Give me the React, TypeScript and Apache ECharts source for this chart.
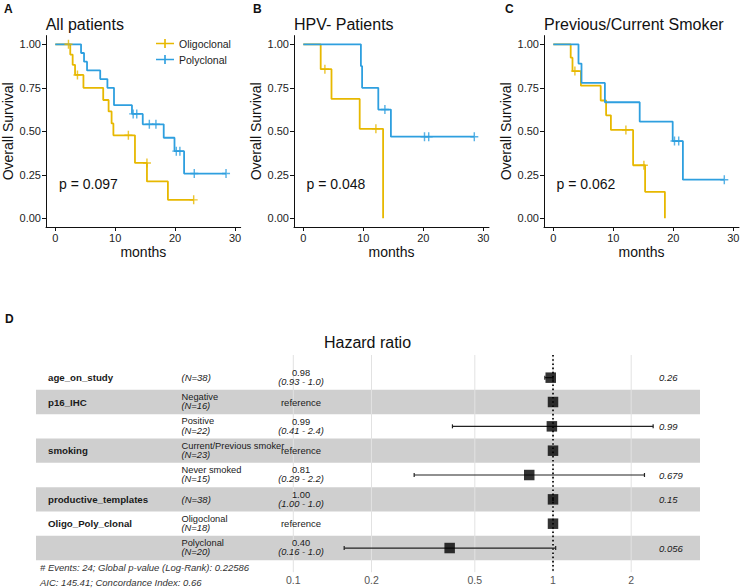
import React, { useEffect, useRef } from "react";
import * as echarts from "echarts";

const FONT = "'Liberation Sans', Arial, Helvetica, sans-serif";

// ---------- Kaplan-Meier data ----------
const monthTicks = [0, 10, 20, 30];
const survTicks = [0, 0.25, 0.5, 0.75, 1];
const groupNames = ["Oligoclonal", "Polyclonal"];
const groupColors = ["#E7B800", "#2E9FDF"];
const panelTitles = ["All patients", "HPV- Patients", "Previous/Current Smoker"];
const panelLetters = ["A", "B", "C"];
const panelPValues = ["p = 0.097", "p = 0.048", "p = 0.062"];

// Panel A: all patients
const aOligoTimes = [0, 2.5, 2.9, 3.3, 4.7, 8.0, 8.9, 9.4, 9.7, 13.3, 15.3, 18.8, 23.1];
const aOligoSurv = [1, 0.941, 0.882, 0.824, 0.75, 0.68, 0.614, 0.545, 0.477, 0.318, 0.212, 0.106, 0.106];
const aOligoCensorTimes = [2.2, 3.7, 12.2, 15.3, 23.1];
const aOligoCensorSurv = [1, 0.824, 0.477, 0.318, 0.106];
const aPolyTimes = [0, 4.3, 4.8, 5.3, 7.5, 8.7, 9.8, 12.8, 14.6, 18.1, 19.9, 21.5, 28.5];
const aPolySurv = [1, 0.95, 0.9, 0.85, 0.8, 0.75, 0.65, 0.6, 0.54, 0.463, 0.386, 0.257, 0.257];
const aPolyCensorTimes = [13.0, 13.6, 15.7, 16.8, 20.2, 20.8, 23.2, 28.5];
const aPolyCensorSurv = [0.6, 0.6, 0.54, 0.54, 0.386, 0.386, 0.257, 0.257];

// Panel B: HPV- patients
const bOligoTimes = [0, 2.9, 4.7, 9.4, 13.3];
const bOligoSurv = [1, 0.857, 0.686, 0.514, 0];
const bOligoCensorTimes = [3.6, 12.1];
const bOligoCensorSurv = [0.857, 0.514];
const bPolyTimes = [0, 9.6, 9.8, 12.5, 14.6, 28.5];
const bPolySurv = [1, 0.875, 0.75, 0.625, 0.469, 0.469];
const bPolyCensorTimes = [13.6, 20.2, 20.9, 28.5];
const bPolyCensorSurv = [0.625, 0.469, 0.469, 0.469];

// Panel C: previous/current smokers
const cOligoTimes = [0, 2.9, 3.2, 4.6, 7.9, 8.8, 9.6, 13.3, 15.3, 18.6];
const cOligoSurv = [1, 0.923, 0.846, 0.762, 0.677, 0.592, 0.508, 0.305, 0.152, 0];
const cOligoCensorTimes = [3.6, 12.1, 15.1];
const cOligoCensorSurv = [0.846, 0.508, 0.305];
const cPolyTimes = [0, 4.2, 4.7, 8.6, 14.4, 19.9, 21.6, 28.5];
const cPolySurv = [1, 0.889, 0.778, 0.667, 0.556, 0.444, 0.222, 0.222];
const cPolyCensorTimes = [20.2, 20.9, 28.5];
const cPolyCensorSurv = [0.444, 0.444, 0.222];

// ---------- Forest plot data ----------
const forestVars = ["age_on_study", "p16_IHC", "", "smoking", "", "productive_templates", "Oligo_Poly_clonal", ""];
const forestLevels = ["", "Negative", "Positive", "Current/Previous smoker", "Never smoked", "", "Oligoclonal", "Polyclonal"];
const forestN = [38, 16, 22, 23, 15, 38, 18, 20];
const forestHR = [0.98, 1, 0.99, 1, 0.81, 1.0, 1, 0.4];
const forestLow = [0.93, null, 0.41, null, 0.292, 1.0, null, 0.157];
const forestHigh = [1.0, null, 2.43, null, 2.25, 1.0, null, 1.024];
const forestHRText = ["0.98", "reference", "0.99", "reference", "0.81", "1.00", "reference", "0.40"];
const forestCIText = ["(0.93 - 1.0)", "", "(0.41 - 2.4)", "", "(0.29 - 2.2)", "(1.00 - 1.0)", "", "(0.16 - 1.0)"];
const forestP = ["0.26", "", "0.99", "", "0.679", "0.15", "", "0.056"];
const hrTicks = [0.1, 0.2, 0.5, 1, 2];
const forestFooter = [
  "# Events: 24; Global p-value (Log-Rank): 0.22586",
  "AIC: 145.41; Concordance Index: 0.66",
];

const PLUS = "path://M4.1,0H5.9V10H4.1Z M0,4.2H10V5.8H0Z";
const LEGEND_ICON = "path://M0,4.1H20V5.9H0Z M9.1,0H10.9V10H9.1Z";

const kmPanels = [
  {
    oligo: [aOligoTimes, aOligoSurv, aOligoCensorTimes, aOligoCensorSurv],
    poly: [aPolyTimes, aPolySurv, aPolyCensorTimes, aPolyCensorSurv],
  },
  {
    oligo: [bOligoTimes, bOligoSurv, bOligoCensorTimes, bOligoCensorSurv],
    poly: [bPolyTimes, bPolySurv, bPolyCensorTimes, bPolyCensorSurv],
  },
  {
    oligo: [cOligoTimes, cOligoSurv, cOligoCensorTimes, cOligoCensorSurv],
    poly: [cPolyTimes, cPolySurv, cPolyCensorTimes, cPolyCensorSurv],
  },
];

const gridLefts = [45.7, 294, 544];
const pLefts = [59, 306.5, 556.5];
const letterLefts = [4, 253, 505];

function buildOption() {
  const grids: any[] = [];
  const xAxes: any[] = [];
  const yAxes: any[] = [];
  const series: any[] = [];
  const titles: any[] = [];
  const graphics: any[] = [];

  kmPanels.forEach((panel, i) => {
    grids.push({ left: gridLefts[i], top: 35.6, width: 195, height: 191.4 });
    xAxes.push({
      type: "value",
      gridIndex: i,
      min: -1.55,
      max: 30.95,
      name: "months",
      nameLocation: "middle",
      nameGap: 18,
      nameTextStyle: { fontSize: 14, color: "#111", fontFamily: FONT },
      axisLine: { show: true, onZero: false, lineStyle: { color: "#111", width: 1 } },
      axisTick: { show: true, length: 4, lineStyle: { color: "#111" }, customValues: monthTicks },
      axisLabel: { fontSize: 11, color: "#222", margin: 5, fontFamily: FONT, customValues: monthTicks },
      splitLine: { show: false },
    });
    yAxes.push({
      type: "value",
      gridIndex: i,
      min: -0.05,
      max: 1.05,
      name: "Overall Survival",
      nameLocation: "middle",
      nameGap: 31,
      nameTextStyle: { fontSize: 14, color: "#111", fontFamily: FONT },
      axisLine: { show: true, onZero: false, lineStyle: { color: "#111", width: 1 } },
      axisTick: { show: true, length: 4, lineStyle: { color: "#111" }, customValues: survTicks },
      axisLabel: {
        fontSize: 11,
        color: "#222",
        margin: 5,
        fontFamily: FONT,
        customValues: survTicks,
        formatter: (v: number) => v.toFixed(2),
      },
      splitLine: { show: false },
    });
    [panel.oligo, panel.poly].forEach((g, gi) => {
      const color = groupColors[gi];
      series.push({
        type: "line",
        name: groupNames[gi],
        xAxisIndex: i,
        yAxisIndex: i,
        step: "end",
        symbol: "none",
        showSymbol: false,
        silent: true,
        z: 3,
        data: g[0].map((t: number, k: number) => [t, g[1][k]]),
        lineStyle: { color, width: 1.8 },
        itemStyle: { color },
      });
      series.push({
        type: "scatter",
        name: groupNames[gi] + " censored",
        xAxisIndex: i,
        yAxisIndex: i,
        symbol: PLUS,
        symbolSize: [8, 9],
        silent: true,
        z: 4,
        itemStyle: { color },
        data: g[2].map((t: number, k: number) => [t, g[3][k]]),
      });
    });
    titles.push({
      text: panelTitles[i],
      left: gridLefts[i],
      top: 16,
      padding: 0,
      textStyle: { fontSize: 16, fontWeight: "normal", color: "#111", fontFamily: FONT },
    });
    graphics.push({
      type: "text",
      left: letterLefts[i],
      top: 3,
      style: { text: panelLetters[i], fontSize: 12, fontWeight: "bold", fill: "#111", fontFamily: FONT },
    });
    graphics.push({
      type: "text",
      x: pLefts[i],
      y: 184,
      style: {
        text: panelPValues[i],
        fontSize: 14,
        fill: "#111",
        fontFamily: FONT,
        textAlign: "left",
        textVerticalAlign: "middle",
      },
    });
  });

  // ---------- Forest grid ----------
  const fIdx = 3;
  const rowIdx = forestVars.map((_, i) => i);
  grids.push({ left: 293.3, top: 365.5, width: 406.7, height: 194.7 });
  xAxes.push({ type: "value", gridIndex: fIdx, min: -1, max: 0.566, show: false, splitLine: { show: false } });
  yAxes.push({
    type: "category",
    gridIndex: fIdx,
    inverse: true,
    data: rowIdx.map(String),
    show: false,
    boundaryGap: true,
  });

  // stripes
  series.push({
    type: "custom",
    name: "stripes",
    xAxisIndex: fIdx,
    yAxisIndex: fIdx,
    silent: true,
    clip: false,
    z: 0,
    data: rowIdx.filter((i) => i % 2 === 1).map((i) => [-1, i]),
    renderItem: (params: any, api: any) => {
      const y = api.coord([-1, api.value(1)])[1];
      const h = api.size([0, 1])[1];
      const cs = params.coordSys;
      return {
        type: "rect",
        shape: { x: 36, y: y - h / 2, width: cs.x + cs.width - 36, height: h },
        style: { fill: "#cfcfcf" },
      };
    },
  });

  // vertical grid lines + tick labels
  series.push({
    type: "custom",
    name: "hrGrid",
    xAxisIndex: fIdx,
    yAxisIndex: fIdx,
    silent: true,
    clip: false,
    z: 1,
    data: hrTicks.map((v) => [Math.log10(v), 0]),
    renderItem: (params: any, api: any) => {
      const x = api.coord([api.value(0), 0])[0];
      const cs = params.coordSys;
      return {
        type: "group",
        children: [
          {
            type: "line",
            shape: { x1: x, y1: cs.y - 10.5, x2: x, y2: cs.y + cs.height + 12 },
            style: { stroke: "#e2e2e2", lineWidth: 1 },
          },
          {
            type: "text",
            x,
            y: 580,
            style: {
              text: String(hrTicks[params.dataIndex]),
              fontSize: 10.5,
              fill: "#555",
              fontFamily: FONT,
              textAlign: "center",
              textVerticalAlign: "middle",
            },
          },
        ],
      };
    },
  });

  // reference dotted line at HR = 1
  series.push({
    type: "custom",
    name: "refLine",
    xAxisIndex: fIdx,
    yAxisIndex: fIdx,
    silent: true,
    clip: false,
    z: 2,
    data: [[0, 0]],
    renderItem: (params: any, api: any) => {
      const x = api.coord([0, 0])[0];
      const cs = params.coordSys;
      return {
        type: "line",
        shape: { x1: x, y1: cs.y - 10.5, x2: x, y2: cs.y + cs.height + 12 },
        style: { stroke: "#111", lineWidth: 1.8, lineDash: [1.6, 2.6] },
      };
    },
  });

  // confidence intervals
  series.push({
    type: "custom",
    name: "ci",
    xAxisIndex: fIdx,
    yAxisIndex: fIdx,
    silent: true,
    clip: false,
    z: 3,
    data: rowIdx.filter((i) => forestLow[i] !== null).map((i) => [0, i]),
    renderItem: (params: any, api: any) => {
      const i = api.value(1);
      const p1 = api.coord([Math.log10(forestLow[i] as number), i]);
      const p2 = api.coord([Math.log10(forestHigh[i] as number), i]);
      const st = { stroke: "#222", lineWidth: 1.2 };
      return {
        type: "group",
        children: [
          { type: "line", shape: { x1: p1[0], y1: p1[1], x2: p2[0], y2: p2[1] }, style: st },
          { type: "line", shape: { x1: p1[0], y1: p1[1] - 2, x2: p1[0], y2: p1[1] + 2 }, style: st },
          { type: "line", shape: { x1: p2[0], y1: p2[1] - 2, x2: p2[0], y2: p2[1] + 2 }, style: st },
        ],
      };
    },
  });

  // point estimates
  series.push({
    type: "scatter",
    name: "hr",
    xAxisIndex: fIdx,
    yAxisIndex: fIdx,
    symbol: "rect",
    symbolSize: 10.5,
    silent: true,
    z: 4,
    itemStyle: { color: "#000" },
    data: forestHR.map((v, i) => [Math.log10(v), i]),
  });

  // table texts
  series.push({
    type: "custom",
    name: "table",
    xAxisIndex: fIdx,
    yAxisIndex: fIdx,
    silent: true,
    clip: false,
    z: 5,
    data: rowIdx.map((i) => [-1, i]),
    renderItem: (params: any, api: any) => {
      const i = api.value(1);
      const y = api.coord([-1, i])[1];
      const base = { fontFamily: FONT, fill: "#1a1a1a", textVerticalAlign: "middle" };
      const children: any[] = [];
      if (forestVars[i]) {
        children.push({
          type: "text",
          x: 48,
          y,
          style: { ...base, text: forestVars[i], fontSize: 9.7, fontWeight: "bold", textAlign: "left" },
        });
      }
      const nText = "(N=" + forestN[i] + ")";
      if (forestLevels[i]) {
        children.push({
          type: "text",
          x: 181.5,
          y: y - 5,
          style: { ...base, text: forestLevels[i], fontSize: 9.3, textAlign: "left" },
        });
        children.push({
          type: "text",
          x: 181.5,
          y: y + 4.4,
          style: { ...base, text: nText, fontSize: 9.3, fontStyle: "italic", textAlign: "left" },
        });
      } else {
        children.push({
          type: "text",
          x: 181.5,
          y,
          style: { ...base, text: nText, fontSize: 9.5, fontStyle: "italic", textAlign: "left" },
        });
      }
      if (forestCIText[i]) {
        children.push({
          type: "text",
          x: 301,
          y: y - 4.8,
          style: { ...base, text: forestHRText[i], fontSize: 9.3, textAlign: "center" },
        });
        children.push({
          type: "text",
          x: 301,
          y: y + 4.4,
          style: { ...base, text: forestCIText[i], fontSize: 9.3, fontStyle: "italic", textAlign: "center" },
        });
      } else {
        children.push({
          type: "text",
          x: 301,
          y,
          style: { ...base, text: forestHRText[i], fontSize: 9.5, textAlign: "center" },
        });
      }
      if (forestP[i]) {
        children.push({
          type: "text",
          x: 659,
          y,
          style: { ...base, text: forestP[i], fontSize: 9.5, fontStyle: "italic", textAlign: "left" },
        });
      }
      return { type: "group", children };
    },
  });

  graphics.push({
    type: "text",
    x: 367.5,
    y: 342,
    style: {
      text: "Hazard ratio",
      fontSize: 16,
      fill: "#111",
      fontFamily: FONT,
      textAlign: "center",
      textVerticalAlign: "middle",
    },
  });
  graphics.push({
    type: "text",
    left: 5,
    top: 313,
    style: { text: "D", fontSize: 12, fontWeight: "bold", fill: "#111", fontFamily: FONT },
  });
  forestFooter.forEach((t, k) => {
    graphics.push({
      type: "text",
      x: 40,
      y: 567 + k * 15,
      style: {
        text: t,
        fontSize: 9.5,
        fontStyle: "italic",
        fill: "#333",
        fontFamily: FONT,
        textAlign: "left",
        textVerticalAlign: "middle",
      },
    });
  });

  return {
    animation: false,
    backgroundColor: "#ffffff",
    textStyle: { fontFamily: FONT },
    title: titles,
    legend: {
      show: true,
      orient: "vertical",
      left: 151,
      top: 33,
      itemWidth: 18,
      itemHeight: 9,
      itemGap: 5,
      selectedMode: false,
      textStyle: { fontSize: 10.5, color: "#222", fontFamily: FONT },
      data: groupNames.map((n) => ({ name: n, icon: LEGEND_ICON })),
    },
    grid: grids,
    xAxis: xAxes,
    yAxis: yAxes,
    series,
    graphic: { elements: graphics },
  };
}

export default function App() {
  const ref = useRef<HTMLDivElement>(null);
  useEffect(() => {
    if (!ref.current) return;
    const chart = echarts.init(ref.current, undefined, { renderer: "svg" });
    chart.setOption(buildOption() as any);
    return () => chart.dispose();
  }, []);
  return (
    <div
      ref={ref}
      style={{ position: "absolute", left: 0, top: 0, width: 745, height: 588, background: "#fff" }}
    />
  );
}
